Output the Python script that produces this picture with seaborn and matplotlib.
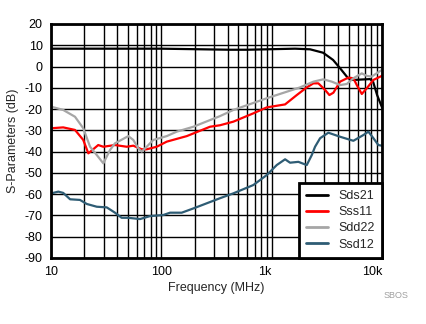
import numpy as np
import pandas as pd
import matplotlib
matplotlib.use("Agg")
import matplotlib.pyplot as plt
import seaborn as sns
from matplotlib.ticker import FixedLocator, NullFormatter

# ---- data (frequency in MHz, value in dB) ----
sds21_f = [10, 100, 420, 600, 1630, 2229, 2924, 3603, 4170, 4930, 5470, 7800, 8300, 9030, 10000]
sds21_v = [8.4, 8.4, 7.9, 7.9, 8.4, 8.1, 6.5, 3.1, -0.8, -5.5, -6.3, -5.9, -7.1, -13.4, -19.2]

sss11_f = [10.1, 12.9, 16.5, 19.6, 21.8, 26.8, 29.8, 38.0, 48.6, 55.7, 66.4, 73.7, 90.8, 112, 170, 276, 340,
           450, 682, 903, 1323, 1689, 2080, 2390, 2650, 3050, 3336, 3626, 4170, 4955, 5503, 5908, 6561, 7280, 8360, 9950]
sss11_v = [-29.0, -28.6, -29.8, -34.5, -40.8, -36.9, -37.7, -36.9, -37.7, -37.2, -38.9, -38.9, -37.7, -35.3, -32.7, -28.3, -27.6,
           -25.9, -22.0, -19.2, -17.8, -13.4, -9.8, -7.9, -7.9, -11.0, -13.4, -12.3, -7.1, -5.2, -5.5, -8.7, -12.9, -10.2, -6.3, -4.4]

sdd22_f = [10.1, 12.9, 16.5, 19.6, 22.6, 26.0, 29.8, 34.3, 38.0, 50.2, 55.7, 61.8, 66.4, 73.7, 84.6, 112, 138, 195, 340,
           450, 903, 1809, 2390, 2944, 3506, 4170, 4797, 5503, 6561, 7280, 8080, 9950]
sdd22_v = [-18.9, -20.4, -23.6, -29.0, -37.7, -41.6, -45.5, -39.2, -36.1, -32.7, -34.5, -38.4, -40.0, -37.7, -34.5, -32.7, -30.6, -28.3, -23.3,
           -20.4, -14.9, -9.8, -7.1, -6.0, -7.1, -8.7, -8.2, -5.5, -3.2, -4.4, -4.7, -1.6]

ssd12_f = [10.1, 11.65, 12.9, 14.9, 18.3, 21.1, 26.0, 32.0, 38.0, 43.7, 50.2, 64.1, 79.0, 104, 120, 153, 195, 340,
           450, 682, 903, 1112, 1323, 1468, 1746, 2080, 2310, 2473, 2746, 3266, 4170, 5503, 6780, 7530, 8360, 9270, 9950]
ssd12_v = [-59.6, -58.8, -59.4, -62.4, -62.7, -64.6, -65.9, -66.2, -68.7, -71.1, -71.1, -71.7, -70.3, -69.8, -68.7, -68.7, -66.7, -61.9,
           -59.6, -55.7, -51.0, -46.3, -43.6, -45.2, -44.8, -46.3, -41.6, -37.7, -33.7, -31.1, -33.0, -34.9, -32.2, -30.6, -33.7, -36.9, -37.2]

series_names = ["Sds21", "Sss11", "Sdd22", "Ssd12"]
series_colors = ["#000000", "#FF0000", "#A6A6A6", "#2E5C74"]
x_ticks = [10, 100, 1000, 10000]
x_ticklabels = ["10", "100", "1k", "10k"]
y_ticks = list(range(-90, 21, 10))

frames = []
for name, f, v in zip(series_names, [sds21_f, sss11_f, sdd22_f, ssd12_f],
                      [sds21_v, sss11_v, sdd22_v, ssd12_v]):
    frames.append(pd.DataFrame({"freq": f, "val": v, "series": name}))
df = pd.concat(frames, ignore_index=True)

sns.set_style("white")
plt.rcParams["font.family"] = ["Liberation Sans", "DejaVu Sans"]

fig = plt.figure(figsize=(4.26, 3.24), dpi=100)
ax = fig.add_axes([51 / 426, 1 - 258 / 324, (382 - 51) / 426, (258 - 24) / 324])

sns.lineplot(data=df, x="freq", y="val", hue="series", hue_order=series_names,
             palette=dict(zip(series_names, series_colors)), estimator=None, sort=False,
             linewidth=1.6, ax=ax, legend=False, zorder=3)

ax.set_xscale("log")
ax.set_xlim(10, 10000)
ax.set_ylim(-90, 20)
ax.set_yticks(y_ticks)
ax.set_yticklabels([str(t) for t in y_ticks])
ax.xaxis.set_major_locator(FixedLocator(x_ticks))
minor = [m * 10 ** d for d in range(1, 4) for m in range(2, 10)]
ax.xaxis.set_minor_locator(FixedLocator(minor))
ax.xaxis.set_minor_formatter(NullFormatter())
ax.set_xticklabels(x_ticklabels)
for lbl, ha in zip(ax.get_xticklabels(), ["center", "center", "right", "right"]):
    lbl.set_ha(ha)

ax.grid(True, which="major", axis="both", color="black", linewidth=1.0)
ax.grid(True, which="minor", axis="x", color="black", linewidth=1.0)
ax.tick_params(axis="both", which="both", length=0, labelsize=9, colors="black", pad=6)
for s in ax.spines.values():
    s.set_color("black")
    s.set_linewidth(2.0)
    s.set_zorder(5)

ax.set_xlabel("Frequency (MHz)", fontsize=9, labelpad=3)
ax.set_ylabel("S-Parameters (dB)", fontsize=9, labelpad=4)

handles = [plt.Line2D([], [], color=c, linewidth=2) for c in series_colors]
leg = ax.legend(handles, series_names, loc="lower right", fontsize=9, frameon=True,
                fancybox=False, borderaxespad=0, handlelength=1.7, handletextpad=0.85,
                labelspacing=0.33, borderpad=0.6)
leg.get_frame().set_edgecolor("black")
leg.get_frame().set_linewidth(2.0)
leg.get_frame().set_facecolor("white")
leg.get_frame().set_alpha(1)
leg.set_zorder(6)

fig.text(396 / 426, 1 - 296 / 324, "SBOS", fontsize=6.5, color="#A0A0A0", ha="center", va="center")

fig.savefig("out.png", dpi=100)
